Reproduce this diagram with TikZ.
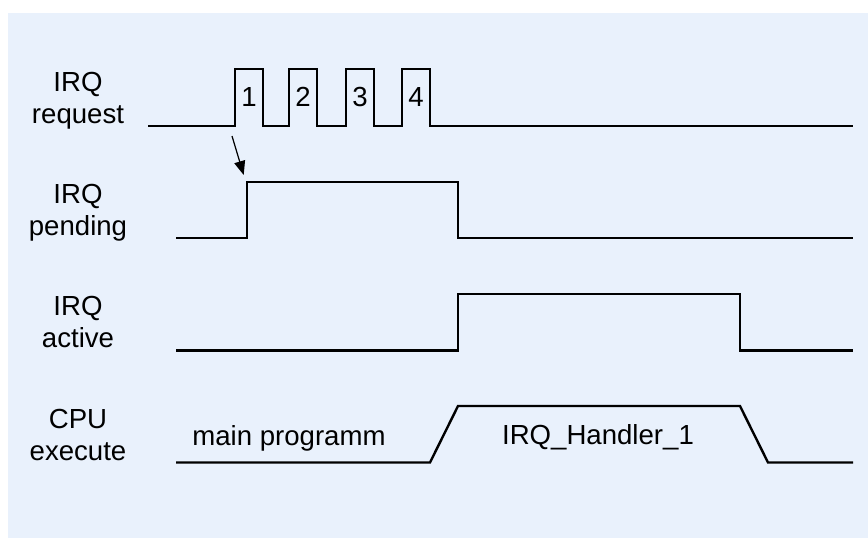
\documentclass[tikz,border=0pt]{standalone}
\usepackage{fontspec}
\setmainfont{Liberation Sans}
\usetikzlibrary{arrows.meta,calc,positioning}
\definecolor{bgblue}{RGB}{233,241,252}

\begin{document}
\begin{tikzpicture}[
  x=0.5pt, y=-0.5pt,
  font=\fontsize{13.8}{16}\selectfont,
  >={Triangle[length=7pt,width=5.5pt]},
  wave/.style   ={line width=1.2pt,line join=miter},
  sig/.style    ={align=center,inner sep=0pt,anchor=north},
  pulsenum/.style={inner sep=0pt},
  phase/.style  ={inner sep=0pt,anchor=base},
]
\useasboundingbox (0,0) rectangle (868,538);
\fill[bgblue] (8,13) rectangle (868,538);

%% ============================================================
%%  Signal names
%% ============================================================
\node[sig] (lreq)  at (78,72)  {IRQ\\request};
\node[sig] (lpend) at (78,184) {IRQ\\pending};
\node[sig] (lact)  at (78,296) {IRQ\\active};
\node[sig] (lcpu)  at (78,409) {CPU\\execute};

%% ============================================================
%%  IRQ request: four pulses
%% ============================================================
\draw[wave] (148,126)
  foreach \x in {235,289,346,402} { -- (\x,126) -- (\x,69) -- (\x+28,69) -- (\x+28,126) }
  -- (853,126);
\foreach \x/\n in {235/1,289/2,346/3,402/4}
  \node[pulsenum] (p\n) at (\x+14,97) {\n};
\coordinate (reqrise) at (235,126);

%% ============================================================
%%  IRQ pending
%% ============================================================
\draw[wave] (176,238) -- (246.7,238) -- (246.7,182) -- (458,182)
  -- (458,238) -- (853,238);
\coordinate (pendrise) at (246.7,182);

%% request -> pending
\draw[->,line width=0.6pt] ($(reqrise)+(-3,10)$) -- ($(pendrise)+(-3,-7)$);

%% ============================================================
%%  IRQ active
%% ============================================================
\draw[wave] (176,350.5) -- (458,350.5) -- (458,294) -- (740,294)
  -- (740,350.5) -- (853,350.5);

%% ============================================================
%%  CPU execute
%% ============================================================
\draw[wave] (176,462.5) -- (430,462.5) -- (458,406) -- (740,406)
  -- (768,462.5) -- (853,462.5);
\node[phase] (mainprog) at (289,445) {main programm};
\node[phase] (handler)  at (598,444) {IRQ\_Handler\_1};

\end{tikzpicture}
\end{document}
